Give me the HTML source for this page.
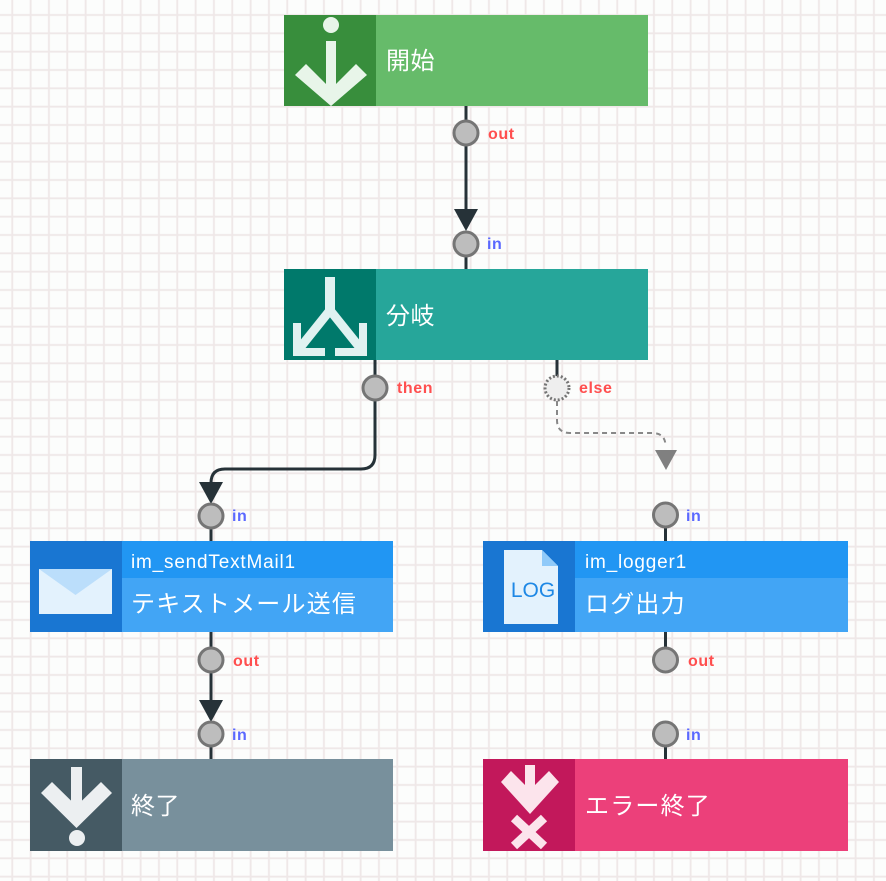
<!DOCTYPE html>
<html><head><meta charset="utf-8">
<style>
html,body{margin:0;padding:0;background:#fcfdfc;}
svg{display:block;}
text{font-family:"Liberation Sans","Noto Sans CJK JP",sans-serif;}
.lbl{fill:#fff;font-size:24px;letter-spacing:0.5px;}
.hdr{fill:#fff;font-size:19px;letter-spacing:0.8px;}
.po{fill:#ff4f4f;font-size:16px;font-weight:bold;letter-spacing:0.6px;}
.pi{fill:#5a68ff;font-size:16px;font-weight:bold;letter-spacing:0.6px;}
</style></head>
<body>
<svg width="886" height="881" viewBox="0 0 886 881" xmlns="http://www.w3.org/2000/svg">
<defs>
<pattern id="g" x="3.13" y="5.83" width="18.333" height="18.333" patternUnits="userSpaceOnUse">
<rect x="8.2" y="0" width="1.9" height="18.333" fill="#efe8e8"/>
<rect x="0" y="8.2" width="18.333" height="1.9" fill="#efe8e8"/>
</pattern>
</defs>
<rect width="886" height="881" fill="#fcfdfc"/>
<rect width="886" height="881" fill="url(#g)"/>

<!-- connectors -->
<g stroke="#263238" stroke-width="3" fill="none">
<line x1="466" y1="106" x2="466" y2="222"/>
<line x1="466" y1="244" x2="466" y2="270"/>
<line x1="375" y1="360" x2="375" y2="388"/>
<path d="M375,388 V455 Q375,469 361,469 H225 Q211,469 211,483 V492"/>
<line x1="557" y1="360" x2="557" y2="378"/>
<line x1="211" y1="516" x2="211" y2="542"/>
<line x1="211" y1="632" x2="211" y2="712"/>
<line x1="211" y1="734" x2="211" y2="760"/>
<line x1="665.5" y1="515" x2="665.5" y2="542"/>
<line x1="665.5" y1="632" x2="665.5" y2="660"/>
<line x1="665.5" y1="734" x2="665.5" y2="760"/>
</g>
<path d="M557,401 V420 Q557,433 570,433 H652 Q665.5,433 665.5,446" stroke="#888" stroke-width="2" stroke-dasharray="5 4" fill="none"/>
<g fill="#263238">
<polygon points="454,209 478,209 466,231"/>
<polygon points="199,482 223,482 211,504"/>
<polygon points="199,700 223,700 211,722"/>
</g>
<polygon points="655,450 677,450 666,470" fill="#808080"/>

<!-- ports -->
<g fill="#bdbdbd" stroke="#757575" stroke-width="3">
<circle cx="466" cy="133" r="12"/>
<circle cx="466" cy="244" r="12"/>
<circle cx="375" cy="388" r="12"/>
<circle cx="211" cy="516" r="12"/>
<circle cx="211" cy="660" r="12"/>
<circle cx="211" cy="734" r="12"/>
<circle cx="665.5" cy="515" r="12"/>
<circle cx="665.5" cy="660" r="12"/>
<circle cx="665.5" cy="734" r="12"/>
</g>
<circle cx="557" cy="388" r="12" fill="#eeeeee" stroke="#757575" stroke-width="3" stroke-dasharray="2 2"/>

<!-- port labels -->
<text class="po" x="488" y="139">out</text>
<text class="pi" x="487" y="249">in</text>
<text class="po" x="397" y="393">then</text>
<text class="po" x="579" y="393">else</text>
<text class="pi" x="232" y="521">in</text>
<text class="po" x="233" y="666">out</text>
<text class="pi" x="232" y="740">in</text>
<text class="pi" x="686" y="521">in</text>
<text class="po" x="688" y="666">out</text>
<text class="pi" x="686" y="740">in</text>

<!-- 開始 node -->
<rect x="284" y="15" width="364" height="91" fill="#66bb6a"/>
<rect x="284" y="15" width="92" height="91" fill="#388e3c"/>
<g fill="#e8f5e9">
<circle cx="331" cy="25" r="8"/>
<rect x="326" y="41" width="10" height="50"/>
<polygon points="295,75 306,64 331,89 356,64 367,75 331,106"/>
</g>
<text class="lbl" x="386" y="69">開始</text>

<!-- 分岐 node -->
<rect x="284" y="269" width="364" height="91" fill="#26a69a"/>
<rect x="284" y="269" width="92" height="91" fill="#00796b"/>
<g stroke="#e0f2f1" fill="none" stroke-linejoin="miter">
<line x1="330" y1="277" x2="330" y2="313" stroke-width="10"/>
<line x1="331" y1="309" x2="299" y2="349" stroke-width="9"/>
<line x1="329" y1="309" x2="361" y2="349" stroke-width="9"/>
<polyline points="297,323 297,352 325,352" stroke-width="8"/>
<polyline points="363,323 363,352 335,352" stroke-width="8"/>
</g>
<text class="lbl" x="386" y="324">分岐</text>

<!-- mail node -->
<rect x="30" y="541" width="363" height="37" fill="#2196f3"/>
<rect x="30" y="578" width="363" height="54" fill="#42a5f5"/>
<rect x="30" y="541" width="92" height="91" fill="#1976d2"/>
<rect x="39" y="569" width="73" height="45" fill="#e3f2fd"/>
<polygon points="39,569 112,569 75.5,595" fill="#bbdefb"/>
<text class="hdr" x="131" y="568">im_sendTextMail1</text>
<text class="lbl" x="131" y="612" style="letter-spacing:1.2px">テキストメール送信</text>

<!-- logger node -->
<rect x="483" y="541" width="365" height="37" fill="#2196f3"/>
<rect x="483" y="578" width="365" height="54" fill="#42a5f5"/>
<rect x="483" y="541" width="92" height="91" fill="#1976d2"/>
<polygon points="504,550 542,550 558,566 558,624 504,624" fill="#e3f2fd"/>
<polygon points="542,550 558,566 542,566" fill="#90caf9"/>
<text x="533" y="597" text-anchor="middle" style="font-size:21px;fill:#1e88e5">LOG</text>
<text class="hdr" x="585" y="568">im_logger1</text>
<text class="lbl" x="585" y="612" style="letter-spacing:1.2px">ログ出力</text>

<!-- 終了 node -->
<rect x="30" y="759" width="363" height="92" fill="#78909c"/>
<rect x="30" y="759" width="92" height="92" fill="#455a64"/>
<g fill="#eceff1">
<rect x="71" y="767" width="11" height="46"/>
<polygon points="41,793 52,782 76.5,806 101,782 112,793 76.5,828"/>
<circle cx="77" cy="838" r="8"/>
</g>
<text class="lbl" x="131" y="814">終了</text>

<!-- エラー終了 node -->
<rect x="483" y="759" width="365" height="92" fill="#ec407a"/>
<rect x="483" y="759" width="92" height="92" fill="#c2185b"/>
<g fill="#fce4ec">
<rect x="525" y="765" width="10" height="30"/>
<polygon points="501,782 511,771 530,790 549,771 559,782 530,814"/>
</g>
<g stroke="#fce4ec" stroke-width="9">
<line x1="514" y1="818" x2="544" y2="846"/>
<line x1="544" y1="818" x2="514" y2="846"/>
</g>
<text class="lbl" x="585" y="814" style="letter-spacing:1.2px">エラー終了</text>
</svg>
</body></html>
